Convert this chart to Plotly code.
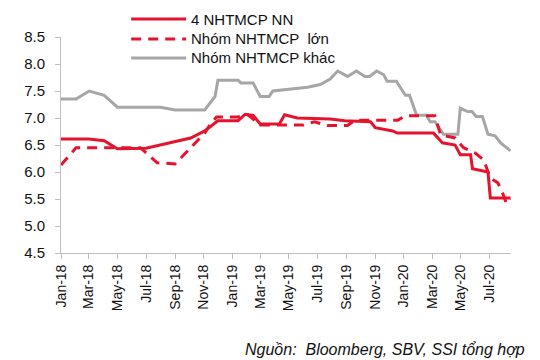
import plotly.graph_objects as go

# ---- data ----
nn_dates = ["2018-01-01", "2018-03-01", "2018-04-03", "2018-05-01", "2018-07-01", "2018-09-02",
            "2018-10-04", "2018-11-03", "2018-12-01", "2019-01-13", "2019-01-28", "2019-02-14",
            "2019-03-01", "2019-04-11", "2019-04-22", "2019-05-19", "2019-07-28", "2019-08-28",
            "2019-10-22", "2019-11-01", "2019-12-08", "2019-12-18", "2020-03-04", "2020-03-23",
            "2020-04-19", "2020-04-30", "2020-05-22", "2020-05-26", "2020-06-19", "2020-06-28",
            "2020-07-03", "2020-08-15"]
nn_values = [6.61, 6.61, 6.58, 6.43, 6.44, 6.57,
             6.63, 6.76, 6.95, 6.95, 7.07, 7.05,
             6.89, 6.89, 7.06, 7.00, 6.98, 6.95,
             6.93, 6.82, 6.76, 6.72, 6.72, 6.54,
             6.50, 6.32, 6.32, 6.06, 6.02, 6.00,
             5.52, 5.52]

lon_dates = ["2018-01-01", "2018-02-02", "2018-06-19", "2018-07-25", "2018-09-01", "2018-10-04",
             "2018-11-03", "2018-11-14", "2018-11-28", "2019-01-12", "2019-02-03", "2019-03-01",
             "2019-06-01", "2019-06-25", "2019-07-22", "2019-09-03", "2019-09-19", "2019-12-19",
             "2020-01-04", "2020-03-07", "2020-03-19", "2020-04-19", "2020-05-07", "2020-06-01",
             "2020-06-19", "2020-07-03", "2020-07-19", "2020-07-31", "2020-08-06", "2020-08-15"]
lon_values = [6.13, 6.45, 6.45, 6.17, 6.15, 6.44,
              6.72, 6.87, 7.02, 7.02, 7.06, 6.87,
              6.87, 6.93, 6.86, 6.86, 6.96, 6.96,
              7.04, 7.04, 6.69, 6.63, 6.45, 6.35,
              6.22, 5.89, 5.80, 5.57, 5.42, 5.50]

khac_dates = ["2018-01-01", "2018-02-02", "2018-03-02", "2018-04-03", "2018-05-01", "2018-08-01",
              "2018-09-01", "2018-11-03", "2018-11-16", "2018-11-25", "2018-12-01", "2019-01-13",
              "2019-01-19", "2019-02-14", "2019-03-01", "2019-03-20", "2019-03-28", "2019-06-10",
              "2019-07-07", "2019-07-28", "2019-08-13", "2019-09-03", "2019-09-22", "2019-10-10",
              "2019-10-20", "2019-11-04", "2019-11-19", "2019-11-26", "2019-12-16", "2020-01-04",
              "2020-01-13", "2020-01-28", "2020-02-18", "2020-02-26", "2020-03-07", "2020-03-25",
              "2020-04-25", "2020-04-30", "2020-05-16", "2020-05-25", "2020-06-03", "2020-06-16",
              "2020-06-28", "2020-07-13", "2020-07-25", "2020-08-15"]
khac_values = [7.35, 7.35, 7.50, 7.42, 7.20, 7.20,
               7.15, 7.15, 7.30, 7.40, 7.70, 7.70,
               7.65, 7.65, 7.40, 7.40, 7.50, 7.57,
               7.62, 7.72, 7.87, 7.77, 7.87, 7.77,
               7.77, 7.87, 7.80, 7.68, 7.68, 7.42,
               7.42, 7.05, 7.05, 6.93, 6.93, 6.70,
               6.70, 7.18, 7.12, 7.12, 7.03, 7.03,
               6.70, 6.67, 6.54, 6.39]

series_names = ["4 NHTMCP NN", "Nhóm NHTMCP  lớn", "Nhóm NHTMCP khác"]
tick_dates = ["2018-01-01", "2018-03-01", "2018-05-01", "2018-07-01", "2018-09-01", "2018-11-01",
              "2019-01-01", "2019-03-01", "2019-05-01", "2019-07-01", "2019-09-01", "2019-11-01",
              "2020-01-01", "2020-03-01", "2020-05-01", "2020-07-01"]
tick_labels = ["Jan-18", "Mar-18", "May-18", "Jul-18", "Sep-18", "Nov-18",
               "Jan-19", "Mar-19", "May-19", "Jul-19", "Sep-19", "Nov-19",
               "Jan-20", "Mar-20", "May-20", "Jul-20"]
y_ticks = [4.5, 5.0, 5.5, 6.0, 6.5, 7.0, 7.5, 8.0, 8.5]
source_text = "Nguồn:  Bloomberg, SBV, SSI tổng hợp"

RED = "#E5132D"
GRAY = "#A6A6A6"
AXIS = "#BFBFBF"
DASH = "10px,7px"

fig = go.Figure()
fig.add_trace(go.Scatter(x=khac_dates, y=khac_values, mode="lines", name=series_names[2],
                         line=dict(color=GRAY, width=3), showlegend=False))
fig.add_trace(go.Scatter(x=lon_dates, y=lon_values, mode="lines", name=series_names[1],
                         line=dict(color=RED, width=3, dash=DASH), showlegend=False))
fig.add_trace(go.Scatter(x=nn_dates, y=nn_values, mode="lines", name=series_names[0],
                         line=dict(color=RED, width=3), showlegend=False))

# manual legend (long line samples as in the reference)
leg_y = [1.083, 0.991, 0.903]
leg_styles = [dict(color=RED, width=3), dict(color=RED, width=3, dash=DASH), dict(color=GRAY, width=3)]
for name, yy, st in zip(series_names, leg_y, leg_styles):
    fig.add_shape(type="line", xref="paper", yref="paper", x0=0.156, x1=0.278, y0=yy, y1=yy, line=st)
    fig.add_annotation(xref="paper", yref="paper", x=0.285, y=yy, text=name, showarrow=False,
                       xanchor="left", yanchor="middle",
                       font=dict(family="Liberation Sans, Arial, sans-serif", size=15, color="#111"))

fig.add_annotation(xref="paper", yref="paper", x=1.036, y=-0.449, text="<i>" + source_text + "</i>",
                   showarrow=False, xanchor="right", yanchor="middle",
                   font=dict(family="Liberation Sans Narrow, Arial Narrow, Liberation Sans, sans-serif",
                             size=16, color="#111"))

fig.update_layout(
    width=540, height=360,
    margin=dict(l=53, r=37, t=29, b=115),
    paper_bgcolor="white", plot_bgcolor="white",
    showlegend=False,
    xaxis=dict(type="date", range=["2018-01-01", "2020-08-16"],
               tickvals=tick_dates, ticktext=tick_labels, tickangle=-90,
               showgrid=False, zeroline=False, showline=True, linecolor=AXIS, linewidth=1,
               ticks="outside", ticklen=5, tickcolor=AXIS,
               tickfont=dict(family="Liberation Sans Narrow, Arial Narrow, Liberation Sans, sans-serif",
                             size=14, color="#111")),
    yaxis=dict(range=[4.5, 8.5], tickvals=y_ticks, tickformat=".1f",
               showgrid=False, zeroline=False, showline=True, linecolor=AXIS, linewidth=1,
               ticks="outside", ticklen=5, tickcolor=AXIS, ticklabelstandoff=7,
               tickfont=dict(family="Liberation Sans, Arial, sans-serif", size=15, color="#111")),
)

fig.write_html("out.html")
